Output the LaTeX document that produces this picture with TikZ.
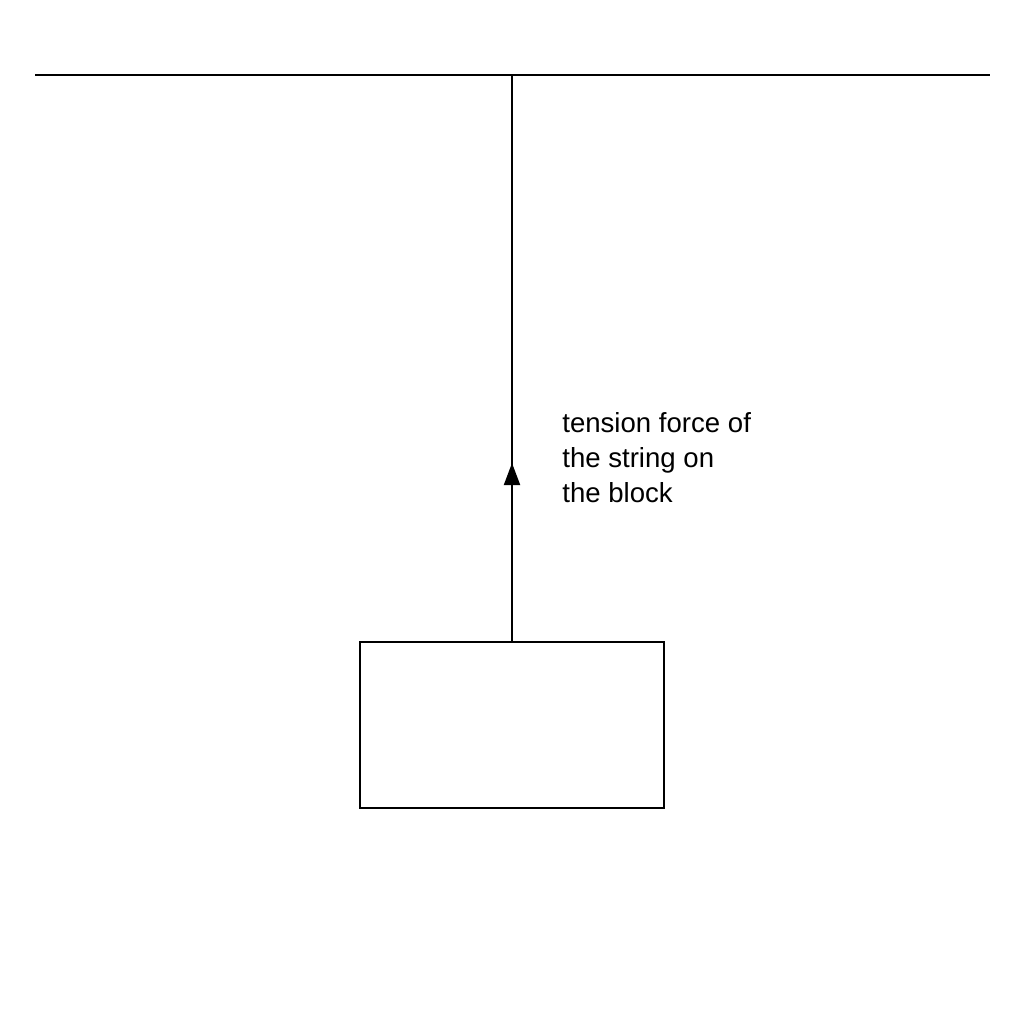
\documentclass[tikz,border=0pt]{standalone}
\usepackage{fontspec}
\setmainfont{Liberation Sans}
\usetikzlibrary{arrows.meta}
\begin{document}
\begin{tikzpicture}[x=0.02cm,y=-0.02cm,
  thinline/.style={line width=1.1pt, draw=black},
  label/.style={font=\fontsize{15.7pt}{19.9pt}\selectfont, align=left, inner sep=0pt, anchor=base west}]
\useasboundingbox (0,0) rectangle (1024,1024);
\coordinate (cl) at (35,75);
\coordinate (cr) at (990,75);
\coordinate (top) at (512,75);
\coordinate (tip) at (512,463);
\draw[thinline] (cl) -- (cr);
\node[thinline, draw, minimum width=304*0.02cm, minimum height=166*0.02cm, inner sep=0pt] (block) at (512,725) {};
\draw[thinline] (top) -- (block.north);
\draw[thinline, -{Triangle[length=0.44cm,width=0.32cm]}] (block.north) -- (tip);
\node[label] (lbl) at (562,502) {tension force of\\the string on\\the block};
\end{tikzpicture}
\end{document}
